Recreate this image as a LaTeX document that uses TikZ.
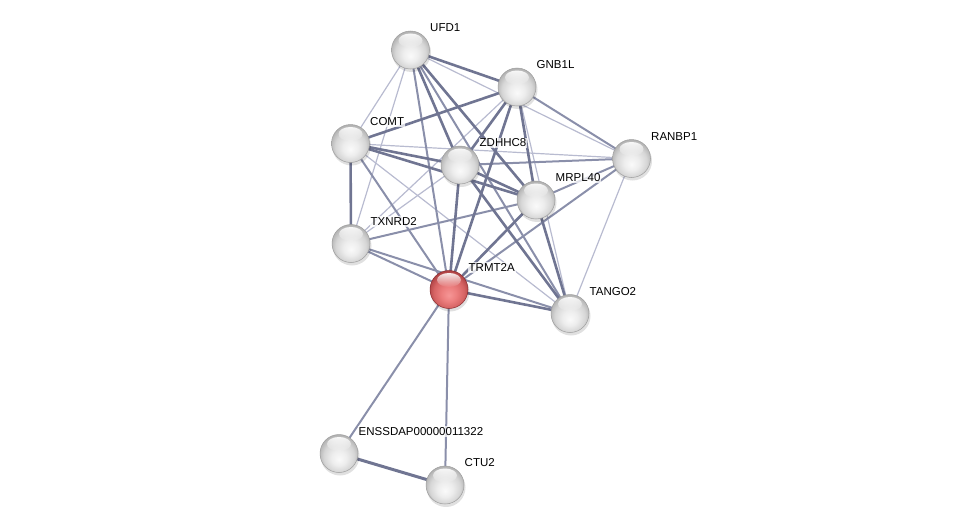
\documentclass[tikz,border=0pt]{standalone}
\usepackage{fontspec}
\setmainfont{Liberation Sans}
\usetikzlibrary{calc,fadings}
\definecolor{estrong}{RGB}{112,117,146}
\definecolor{emed}{RGB}{138,143,170}
\definecolor{eweak}{RGB}{184,187,208}
\definecolor{rA}{RGB}{246,150,150}
\definecolor{rB}{RGB}{236,126,126}
\definecolor{rC}{RGB}{214,100,100}
\definecolor{rD}{RGB}{170,62,64}
\definecolor{rE}{RGB}{140,45,48}
\pgfdeclareradialshading{sball}{\pgfpoint{0bp}{-8bp}}{color(0bp)=(black!2); color(10bp)=(black!7); color(20bp)=(black!16); color(28bp)=(black!32); color(33bp)=(black!48); color(40bp)=(black!48)}
\pgfdeclareradialshading{rball}{\pgfpoint{0bp}{-8bp}}{color(0bp)=(rA); color(10bp)=(rB); color(20bp)=(rC); color(28bp)=(rD); color(33bp)=(rE); color(40bp)=(rE)}
\pgfdeclarelayer{edges}
\pgfdeclarelayer{shadow}
\pgfsetlayers{edges,shadow,main}
\begin{document}
\begin{tikzpicture}[x=1pt,y=-1pt,
  prot/.style={circle,minimum size=38pt,inner sep=0pt,shading=sball,draw=black!38,line width=0.5pt},
  qprot/.style={circle,minimum size=38pt,inner sep=0pt,shading=rball,draw=rE,line width=0.5pt},
  strong/.style={draw=estrong,line width=2.6pt},
  med/.style={draw=emed,line width=2pt},
  weak/.style={draw=eweak,line width=1.2pt},
  lbl/.style={anchor=west,font=\fontsize{11.5}{13}\selectfont,fill=white,fill opacity=0.75,text opacity=1,inner sep=1pt}]
\useasboundingbox (0,0) rectangle (975,530);
% nodes
\node[prot] (U) at (410.5,50) {};
\node[prot] (G) at (517,87) {};
\node[prot] (C) at (350.5,143.5) {};
\node[prot] (Z) at (460,165) {};
\node[prot] (R) at (631.5,158.5) {};
\node[prot] (M) at (536,200) {};
\node[prot] (X) at (351,243.5) {};
\node[qprot] (T) at (449,289.5) {};
\node[prot] (A) at (570,313.5) {};
\node[prot] (E) at (339,453.5) {};
\node[prot] (K) at (445,485) {};
% glossy highlights
\foreach \p in {U,G,C,Z,R,M,X,T,A,E,K}
  \fill[white,path fading=south,opacity=0.9] ($(\p.center)+(0,-9.5)$) ellipse (12 and 7);
% shadows
\begin{pgfonlayer}{shadow}
\foreach \p in {U,G,C,Z,R,M,X,T,A,E,K}
  \fill[black,opacity=0.12] ($(\p.center)+(1,2.5)$) circle (19.5pt);
\end{pgfonlayer}
% edges
\begin{pgfonlayer}{edges}
\draw[weak] (U.center) -- (R.center);
\draw[weak] (U.center) -- (C.center);
\draw[weak] (U.center) -- (X.center);
\draw[weak] (C.center) -- (R.center);
\draw[weak] (C.center) -- (A.center);
\draw[weak] (G.center) -- (X.center);
\draw[weak] (G.center) -- (A.center);
\draw[weak] (R.center) -- (A.center);
\draw[weak] (X.center) -- (Z.center);
\draw[med] (X.center) -- (M.center);
\draw[med] (X.center) -- (A.center);
\draw[med] (U.center) -- (T.center);
\draw[med] (R.center) -- (T.center);
\draw[med] (G.center) -- (R.center);
\draw[med] (Z.center) -- (R.center);
\draw[med] (M.center) -- (R.center);
\draw[med] (C.center) -- (T.center);
\draw[med] (X.center) -- (T.center);
\draw[med] (T.center) -- (E.center);
\draw[med] (T.center) -- (K.center);
\draw[med] (U.center) -- (A.center);
\draw[strong] (U.center) -- (G.center);
\draw[strong] (U.center) -- (Z.center);
\draw[strong] (U.center) -- (M.center);
\draw[strong] (G.center) -- (C.center);
\draw[strong] (G.center) -- (Z.center);
\draw[strong] (G.center) -- (M.center);
\draw[strong] (G.center) -- (T.center);
\draw[strong] (C.center) -- (X.center);
\draw[strong] (C.center) -- (Z.center);
\draw[strong] (C.center) -- (M.center);
\draw[strong] (Z.center) -- (M.center);
\draw[strong] (Z.center) -- (T.center);
\draw[strong] (Z.center) -- (A.center);
\draw[strong] (M.center) -- (A.center);
\draw[strong] (M.center) -- (T.center);
\draw[strong] (T.center) -- (A.center);
\draw[strong,line width=3pt] (E.center) -- (K.center);
\end{pgfonlayer}
% labels
\node[lbl] (lU) at ($(U.center)+(18.5,-22)$) {UFD1};
\node[lbl] (lG) at ($(G.center)+(18.5,-22)$) {GNB1L};
\node[lbl] (lC) at ($(C.center)+(18.5,-22)$) {COMT};
\node[lbl] (lZ) at ($(Z.center)+(18.5,-22)$) {ZDHHC8};
\node[lbl] (lR) at ($(R.center)+(18.5,-22)$) {RANBP1};
\node[lbl] (lM) at ($(M.center)+(18.5,-22)$) {MRPL40};
\node[lbl] (lX) at ($(X.center)+(18.5,-22)$) {TXNRD2};
\node[lbl] (lT) at ($(T.center)+(18.5,-22)$) {TRMT2A};
\node[lbl] (lA) at ($(A.center)+(18.5,-22)$) {TANGO2};
\node[lbl] (lE) at ($(E.center)+(18.5,-22)$) {ENSSDAP00000011322};
\node[lbl] (lK) at ($(K.center)+(18.5,-22)$) {CTU2};
\end{tikzpicture}
\end{document}
